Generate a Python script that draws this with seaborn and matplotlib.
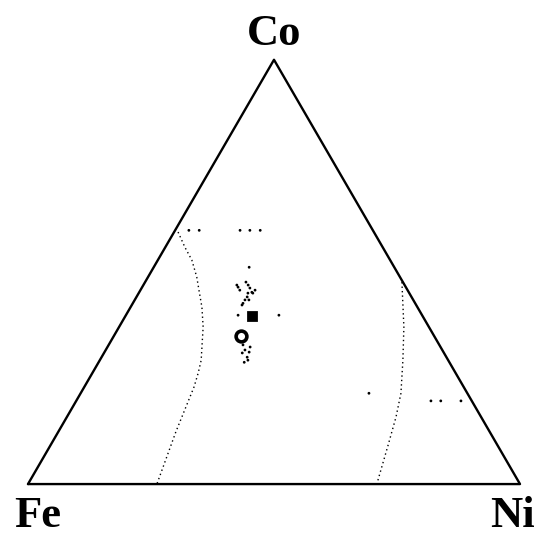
import numpy as np
import pandas as pd
import matplotlib
matplotlib.use("Agg")
import matplotlib.pyplot as plt
import seaborn as sns

# Ternary compositions given as (Co, Ni) fractions; Fe = 1 - Co - Ni
vertex_labels = ["Fe", "Ni", "Co"]

# Phase boundary on the Fe-rich side
left_co = [0.594, 0.558, 0.528, 0.488, 0.457, 0.417, 0.370, 0.332, 0.292, 0.262, 0.229, 0.123, 0.000]
left_ni = [0.008, 0.040, 0.069, 0.099, 0.119, 0.145, 0.171, 0.188, 0.206, 0.215, 0.223, 0.239, 0.262]

# Phase boundary on the Ni-rich side
right_co = [0.476, 0.370, 0.292, 0.214, 0.158, 0.092, 0.000]
right_ni = [0.522, 0.579, 0.616, 0.651, 0.669, 0.686, 0.709]

# Measured alloy compositions (small points)
pts_co = [0.598, 0.598, 0.598, 0.598, 0.598, 0.511, 0.398, 0.398, 0.214, 0.196, 0.196, 0.196,
          0.469, 0.464, 0.457, 0.476, 0.469, 0.462, 0.452, 0.450, 0.441, 0.434, 0.426, 0.422,
          0.450, 0.457, 0.434,
          0.328, 0.316, 0.309, 0.299, 0.311, 0.287, 0.292, 0.323]
pts_ni = [0.028, 0.049, 0.132, 0.152, 0.173, 0.194, 0.228, 0.311, 0.586, 0.721, 0.741, 0.782,
          0.190, 0.195, 0.202, 0.205, 0.213, 0.220, 0.229, 0.222, 0.225, 0.224, 0.224, 0.224,
          0.232, 0.233, 0.232,
          0.273, 0.283, 0.281, 0.296, 0.294, 0.296, 0.301, 0.290]

# Highlighted compositions
solid_co, solid_ni = [0.396], [0.257]
ring_co, ring_ni = [0.349], [0.259]

SQ3 = np.sqrt(3) / 2


def to_xy(co, ni):
    co = np.asarray(co, float)
    ni = np.asarray(ni, float)
    return ni + co / 2, co * SQ3


sns.set_style("white")
fig = plt.figure(figsize=(5.38, 5.36), dpi=100)
ax = fig.add_axes([0, 0, 1, 1])

# Triangle frame
tri_co = [0, 0, 1, 0]
tri_ni = [0, 1, 0, 0]
tx, ty = to_xy(tri_co, tri_ni)
sns.lineplot(x=tx, y=ty, sort=False, color="black", lw=1.7, ax=ax, estimator=None)

# Boundary curves
for co, ni in [(left_co, left_ni), (right_co, right_ni)]:
    x, y = to_xy(co, ni)
    sns.lineplot(x=x, y=y, sort=False, estimator=None, color="black", lw=1.0,
                 linestyle=(0, (1, 2.2)), ax=ax)

# Points
px, py = to_xy(pts_co, pts_ni)
sns.scatterplot(x=px, y=py, s=4, color="black", edgecolor="none", ax=ax)
sx, sy = to_xy(solid_co, solid_ni)
sns.scatterplot(x=sx, y=sy, s=50, marker="s", color="black", edgecolor="black", ax=ax)
rx, ry = to_xy(ring_co, ring_ni)
sns.scatterplot(x=rx, y=ry, s=60, marker="o", facecolor="white", edgecolor="black",
                linewidth=2.6, ax=ax)

# Vertex labels
font = dict(family="Liberation Serif", fontweight="bold", fontsize=32, color="black")
ax.text(0.5, 0.896, vertex_labels[2], ha="center", va="baseline", **font)
ax.text(0.020, -0.088, vertex_labels[0], ha="center", va="baseline", **font)
ax.text(0.984, -0.088, vertex_labels[1], ha="center", va="baseline", **font)

ax.set_xlim(-0.0569, 1.0366)
ax.set_ylim(-0.106, 0.988)
ax.set_axis_off()

fig.savefig("out.png", dpi=100)
